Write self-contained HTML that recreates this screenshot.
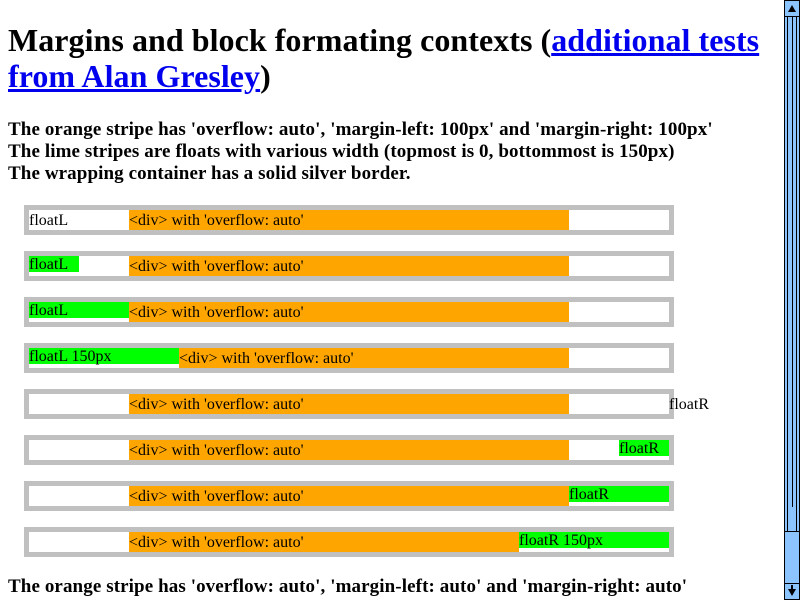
<!DOCTYPE html>
<html><head><style>
body{margin:0;width:800px;height:600px;overflow:hidden;background:#fff;font-family:"Liberation Serif",serif;position:relative}
h1{position:absolute;left:8px;top:22px;margin:0;font-size:32px;line-height:36px;font-weight:bold;width:770px;letter-spacing:0.05px}
h1 a{color:#00e}
.p{position:absolute;left:8px;font-size:19px;font-weight:bold;line-height:22px;white-space:nowrap;letter-spacing:0.1px}
.box{position:absolute;left:24px;width:640px;height:20px;border:5px solid #c0c0c0;background:#fff}
.or{position:absolute;left:100px;width:440px;top:0;height:20px;background:orange;font-size:16px;line-height:21px;white-space:nowrap}
.fl{position:absolute;top:0;height:16px;background:lime;font-size:16px;line-height:18px;white-space:nowrap;z-index:2}
.t{font-size:16px;line-height:21px;white-space:nowrap;position:absolute;top:0}
.sb{position:absolute;left:784px;top:0;width:14px;height:598px;border:1px solid #000;background:#8cc4ff}
</style></head><body>
<h1>Margins and block formating contexts (<a href="#">additional tests from Alan Gresley</a>)</h1>
<div class="p" style="top:119px">The orange stripe has 'overflow: auto', 'margin-left: 100px' and 'margin-right: 100px'</div>
<div class="p" style="top:141px">The lime stripes are floats with various width (topmost is 0, bottommost is 150px)</div>
<div class="p" style="top:163px">The wrapping container has a solid silver border.</div>

<div class="box" style="top:205px"><span class="t" style="left:0">floatL</span><div class="or">&lt;div&gt; with 'overflow: auto'</div></div>
<div class="box" style="top:251px"><div class="fl" style="left:0;width:50px">floatL</div><div class="or">&lt;div&gt; with 'overflow: auto'</div></div>
<div class="box" style="top:297px"><div class="fl" style="left:0;width:100px">floatL</div><div class="or">&lt;div&gt; with 'overflow: auto'</div></div>
<div class="box" style="top:343px"><div class="fl" style="left:0;width:150px">floatL 150px</div><div class="or" style="left:150px;width:390px">&lt;div&gt; with 'overflow: auto'</div></div>
<div class="box" style="top:389px"><div class="or">&lt;div&gt; with 'overflow: auto'</div><span class="t" style="left:640px">floatR</span></div>
<div class="box" style="top:435px"><div class="or">&lt;div&gt; with 'overflow: auto'</div><div class="fl" style="left:590px;width:50px">floatR</div></div>
<div class="box" style="top:481px"><div class="or">&lt;div&gt; with 'overflow: auto'</div><div class="fl" style="left:540px;width:100px">floatR</div></div>
<div class="box" style="top:527px"><div class="or" style="width:390px">&lt;div&gt; with 'overflow: auto'</div><div class="fl" style="left:490px;width:150px">floatR 150px</div></div>

<div class="p" style="top:576px">The orange stripe has 'overflow: auto', 'margin-left: auto' and 'margin-right: auto'</div>

<div class="sb">
  <div style="position:absolute;left:0;top:0;width:14px;height:15px;border-bottom:1px solid #000"><div style="position:absolute;left:3px;top:4px;width:0;height:0;border-left:4px solid transparent;border-right:4px solid transparent;border-bottom:7px solid #000"></div></div>
  <div style="position:absolute;left:0;top:16px;width:14px;height:514px;border-bottom:1px solid #000">
    <div style="position:absolute;left:2px;top:0;width:8px;height:514px;border-left:1px solid #000;border-right:1px solid #000"></div>
    <div style="position:absolute;left:7px;top:0;width:1px;height:490px;background:#000"></div>
  </div>
  <div style="position:absolute;left:0;top:582px;width:14px;height:16px;border-top:1px solid #000"><div style="position:absolute;left:6px;top:1px;width:2px;height:4px;background:#000"></div><div style="position:absolute;left:3px;top:5px;width:0;height:0;border-left:4px solid transparent;border-right:4px solid transparent;border-top:7px solid #000"></div></div>
</div>
</body></html>
